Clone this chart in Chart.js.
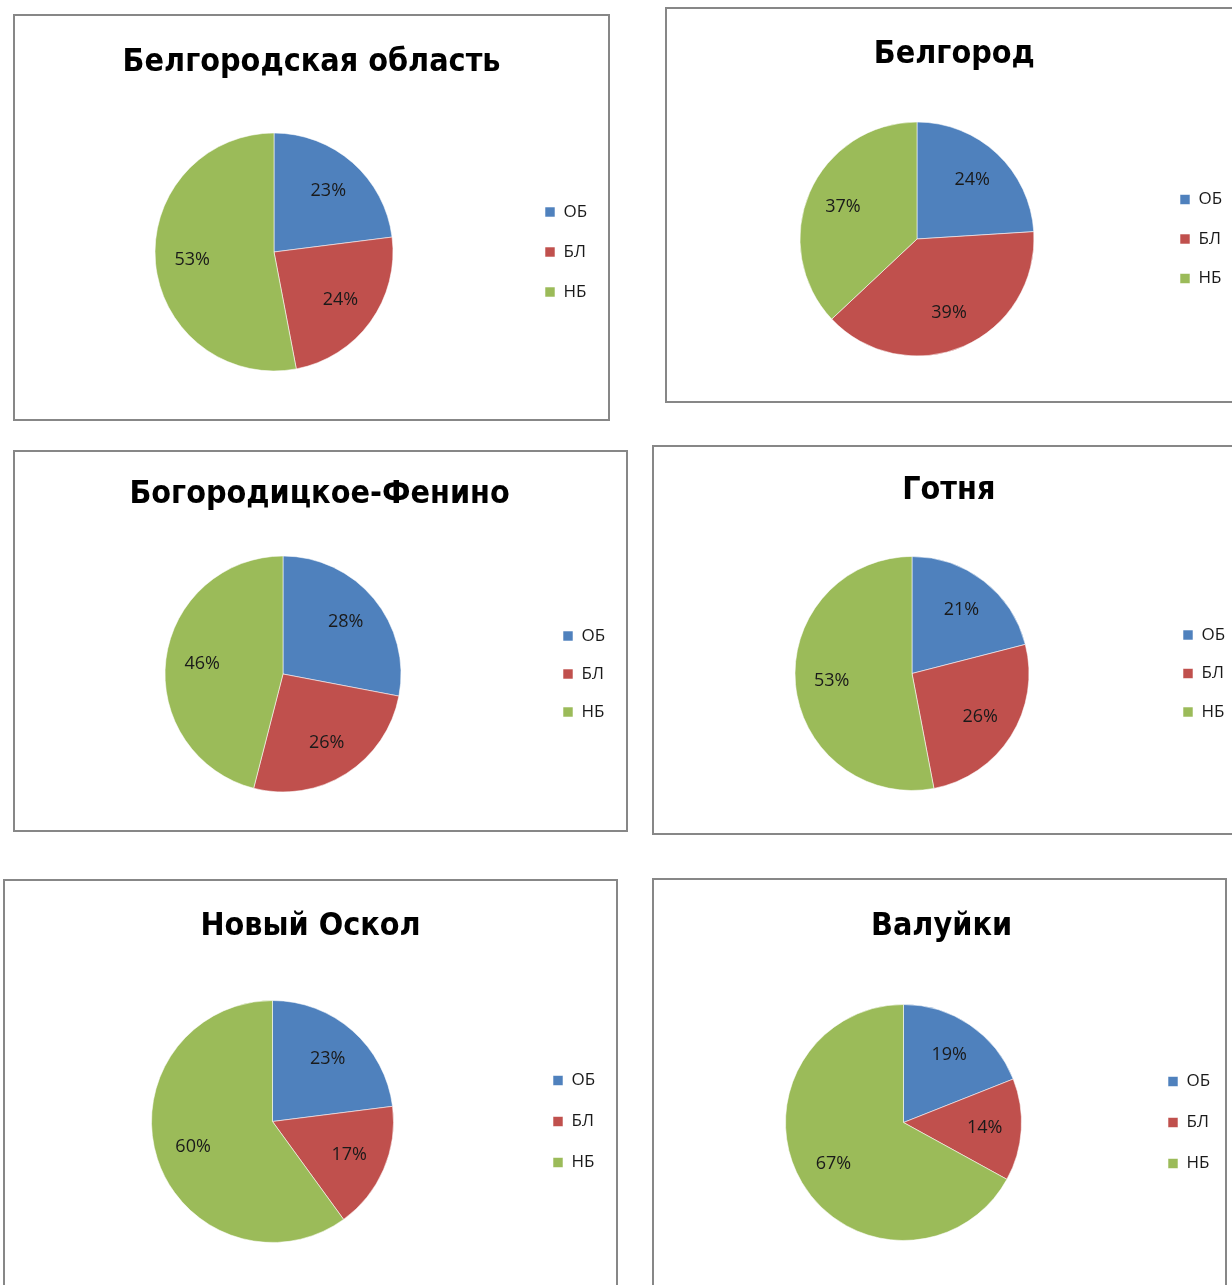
<!DOCTYPE html>
<html><head><meta charset="utf-8">
<script src="https://cdn.jsdelivr.net/npm/chart.js@4.4.1/dist/chart.umd.min.js"></script>
<style>
html,body{margin:0;padding:0;background:#fff;width:1232px;height:1285px;overflow:hidden;position:relative}
.box{position:absolute;box-sizing:border-box;border:2px solid #878787;background:#fff}
.box canvas{display:block}
</style></head><body>
<script>
// ---- data ----
const categories = ['ОБ', 'БЛ', 'НБ'];
const titles = ['Белгородская область', 'Белгород', 'Богородицкое-Фенино', 'Готня', 'Новый Оскол', 'Валуйки'];
const belgorodRegion = [23, 24, 53];
const belgorod = [24, 39, 37];
const bogoroditskoeFenino = [28, 26, 46];
const gotnya = [21, 26, 53];
const novyOskol = [23, 17, 60];
const valuyki = [19, 14, 67];
const seriesValues = [belgorodRegion, belgorod, bogoroditskoeFenino, gotnya, novyOskol, valuyki];

// ---- style / layout ----
const colors = ['#4F81BD', '#C0504D', '#9BBB59'];
const TITLE_FAMILY = "'DejaVu Sans Condensed', 'Open Sans', sans-serif";
const TEXT_FAMILY = "'Open Sans', 'Noto Sans', sans-serif";
const TITLE_SIZE = 32, LEG_SIZE = 17, LABEL_SIZE = 18, BOXW = 10, BORDER = 2, TITLE_SHIFT = 3;
// frame of each chart (page px): border box, plot centre, radius, title centre, legend square x, legend row gap
const frames = [
  {box: [13, 14, 610, 421],   cx: 274,   cy: 252,    r: 119, ty: 60,  sqX: 545,  gap: 40},
  {box: [665, 7, 1240, 403],  cx: 917,   cy: 239,    r: 117, ty: 52,  sqX: 1180, gap: 39.5},
  {box: [13, 450, 628, 832],  cx: 283,   cy: 674,    r: 118, ty: 492, sqX: 563,  gap: 38},
  {box: [652, 445, 1236, 835],cx: 912,   cy: 673.5,  r: 117, ty: 488, sqX: 1183, gap: 38.5},
  {box: [3, 879, 618, 1300],  cx: 272.5, cy: 1121.5, r: 121, ty: 924, sqX: 553,  gap: 41},
  {box: [652, 878, 1227, 1300],cx: 903.5,cy: 1122.5, r: 118, ty: 924, sqX: 1168, gap: 41}
];

const measure = document.createElement('canvas').getContext('2d');
measure.font = LEG_SIZE + 'px ' + TEXT_FAMILY;
const maxTextW = Math.max(...categories.map(c => measure.measureText(c).width));

const pctLabels = {
  id: 'pctLabels',
  afterDatasetsDraw(chart) {
    const ctx = chart.ctx;
    const meta = chart.getDatasetMeta(0);
    const data = chart.data.datasets[0].data;
    ctx.save();
    ctx.font = LABEL_SIZE + 'px ' + TEXT_FAMILY;
    ctx.fillStyle = '#1a1a1a';
    ctx.textAlign = 'center';
    ctx.textBaseline = 'middle';
    meta.data.forEach((arc, k) => {
      const p = arc.getProps(['x', 'y', 'startAngle', 'endAngle', 'outerRadius'], true);
      const a = (p.startAngle + p.endAngle) / 2, d = p.outerRadius * 0.69;
      ctx.fillText(data[k] + '%', p.x + Math.cos(a) * d, p.y + Math.sin(a) * d);
    });
    ctx.restore();
  }
};

frames.forEach((f, i) => {
  const div = document.createElement('div');
  div.className = 'box';
  div.style.left = f.box[0] + 'px';
  div.style.top = f.box[1] + 'px';
  div.style.width = (f.box[2] - f.box[0]) + 'px';
  div.style.height = (f.box[3] - f.box[1]) + 'px';
  document.body.appendChild(div);
  const ox = f.box[0] + BORDER, oy = f.box[1] + BORDER;
  const W = f.box[2] - f.box[0] - 2 * BORDER, H = f.box[3] - f.box[1] - 2 * BORDER;
  const canvas = document.createElement('canvas');
  canvas.width = W; canvas.height = H;
  canvas.style.width = W + 'px'; canvas.style.height = H + 'px';
  div.appendChild(canvas);

  const cx = f.cx - ox, cy = f.cy - oy, ty = f.ty + TITLE_SHIFT - oy, sq = f.sqX - ox;
  const lp = f.gap - LEG_SIZE;
  const legendW = lp + BOXW + LEG_SIZE / 2 + maxTextW + 10;
  const legendLeft = sq - lp;
  const padR = W - legendLeft - legendW;
  const padL = 2 * cx - legendLeft;
  const th = TITLE_SIZE * 1.2;
  const tPadTop = ty - th / 2, tPadBottom = 8;
  const titleBottom = ty + th / 2 + tPadBottom;
  const padB = H - (2 * cy - titleBottom);

  new Chart(canvas, {
    type: 'pie',
    data: {
      labels: categories,
      datasets: [{
        data: seriesValues[i],
        backgroundColor: colors,
        borderColor: 'rgba(255,255,255,0.55)',
        borderWidth: 1,
        radius: f.r,
        hoverOffset: 0
      }]
    },
    options: {
      responsive: false,
      animation: false,
      devicePixelRatio: 1,
      events: [],
      layout: {padding: {left: padL, right: padR, top: 0, bottom: padB}},
      plugins: {
        title: {
          display: true, text: titles[i], color: '#000',
          font: {family: TITLE_FAMILY, size: TITLE_SIZE, weight: 'bold', lineHeight: 1.2},
          padding: {top: tPadTop, bottom: tPadBottom}
        },
        legend: {
          display: true, position: 'right', align: 'center', fullSize: false,
          labels: {boxWidth: BOXW, boxHeight: BOXW, padding: lp, color: '#1a1a1a',
                   font: {family: TEXT_FAMILY, size: LEG_SIZE}}
        },
        tooltip: {enabled: false}
      }
    },
    plugins: [pctLabels]
  });
});
</script>
</body></html>
